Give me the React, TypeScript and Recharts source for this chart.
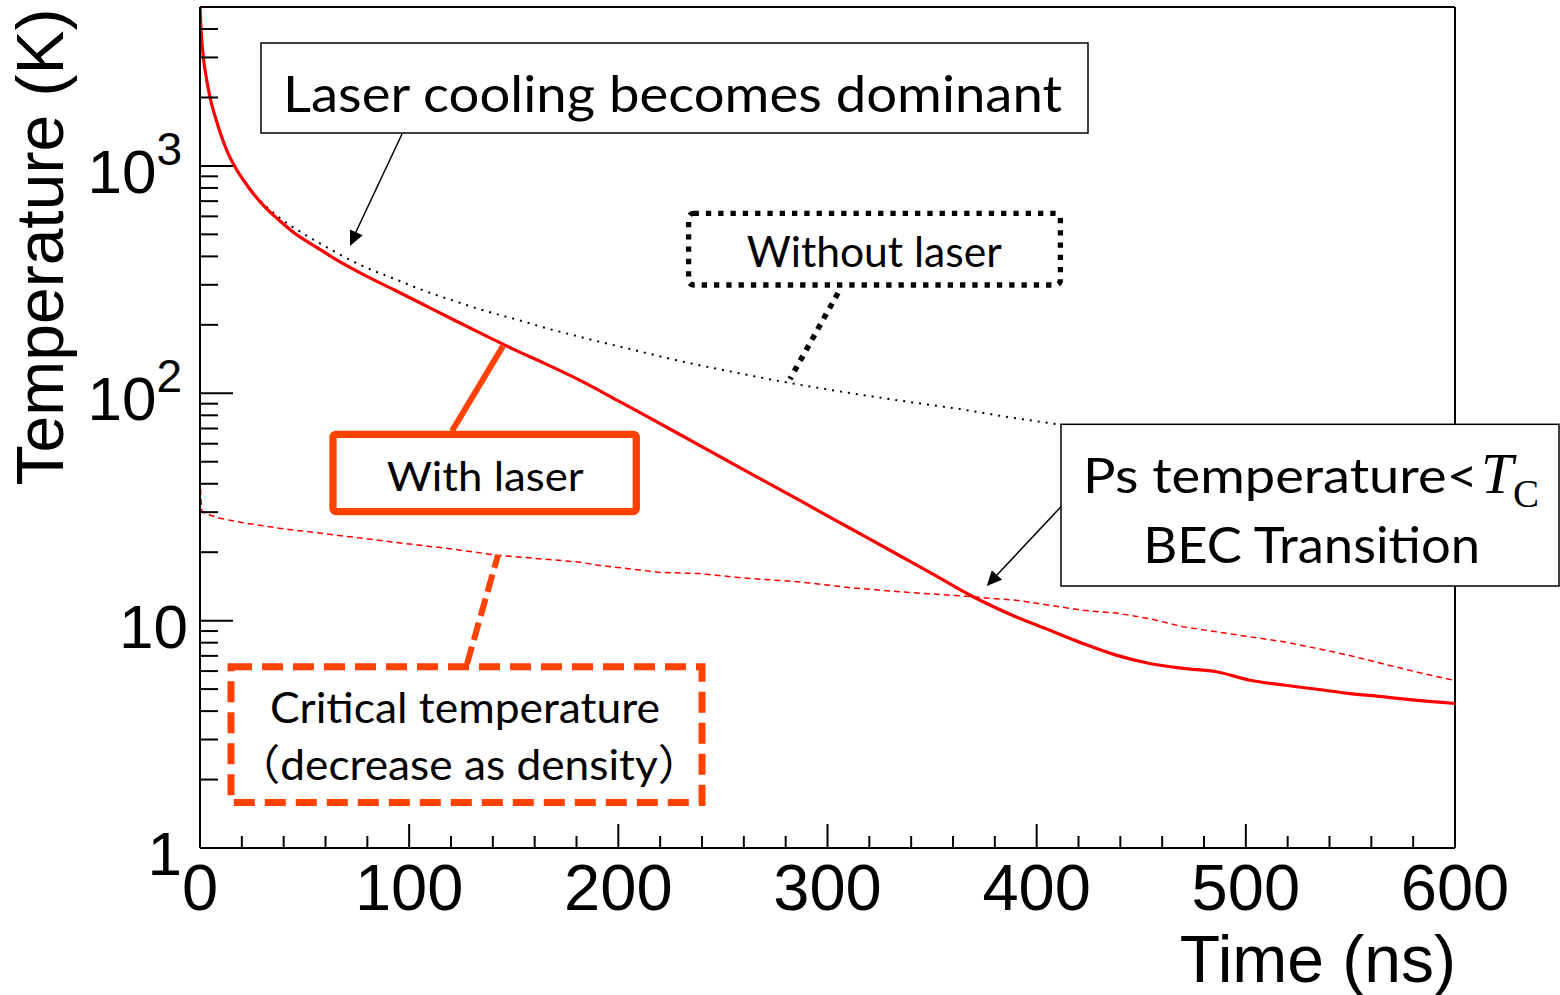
import React from 'react';
import { LineChart, Line, XAxis, YAxis, ReferenceLine } from 'recharts';

// ---- data ----
const laserTime = [0, 0.5, 1.6, 3, 4.8, 7.5, 10, 13, 16.5, 23, 31, 38, 45.4, 55, 64.5, 80, 93.2, 107, 121.9, 137.7, 150, 165, 181.7, 200, 215, 229, 250, 269, 287, 303, 318.5, 335, 350, 368, 390, 406, 422, 438, 454, 470, 486, 502, 518, 534, 549, 565, 581, 600];
const laserTemp = [5000, 4000, 3000, 2450, 2000, 1620, 1370, 1160, 1000, 810, 660, 575, 504, 443, 390, 326, 284, 245, 209, 177, 156, 135, 114, 92.6, 77.9, 66.2, 51.8, 41.5, 33.7, 27.9, 23.3, 19.2, 16.1, 12.96, 10.4, 9.09, 7.94, 7.05, 6.48, 6.17, 5.96, 5.47, 5.21, 4.99, 4.79, 4.63, 4.47, 4.32];

const noLaserTime = [0, 0.5, 1.6, 3, 4.8, 7.5, 10, 13, 16.5, 23, 31.9, 38, 45.4, 55, 64.5, 78, 93.2, 107, 121.9, 136, 150.6, 165, 181.7, 205, 229.5, 253, 277.3, 300, 325.1, 345, 363.3, 385, 409.6, 412];
const noLaserTemp = [5000, 4000, 3000, 2450, 2000, 1620, 1370, 1160, 1000, 812, 660, 592, 531, 470, 419, 362, 318, 283, 254, 231, 212, 194, 177, 157, 138.6, 125, 113, 104, 95.7, 90, 85.2, 79, 73.2, 72.7];

const critTime = [0, 0.8, 2, 5, 9.5, 20, 38, 55, 73, 95, 118, 142, 160, 181, 191, 220, 239, 260, 287, 310, 334, 366, 390, 406, 422, 438, 454, 470, 486, 502, 518, 534, 549, 565, 581, 600];
const critTemp = [42, 30.5, 29.8, 29.1, 28.2, 27, 25.5, 24.4, 23.3, 22, 20.8, 19.4, 18.8, 18.1, 17.5, 16.3, 16.1, 15.4, 14.8, 14.0, 13.4, 12.8, 12.3, 11.7, 11.1, 10.8, 10.2, 9.4, 8.93, 8.49, 8.07, 7.55, 7.05, 6.48, 5.96, 5.45];

const xMajorTicks = [0, 100, 200, 300, 400, 500, 600];
const xTicks = [0, 20, 40, 60, 80, 100, 120, 140, 160, 180, 200, 220, 240, 260, 280, 300, 320, 340, 360, 380, 400, 420, 440, 460, 480, 500, 520, 540, 560, 580, 600];
const yMajorTicks = [1, 10, 100, 1000];
const yTicks = [1, 2, 3, 4, 5, 6, 7, 8, 9, 10, 20, 30, 40, 50, 60, 70, 80, 90, 100, 200, 300, 400, 500, 600, 700, 800, 900, 1000, 2000, 3000, 4000];

const toRows = (ts: number[], vs: number[]) => ts.map((t, i) => ({ t, T: vs[i] }));
const laserData = toRows(laserTime, laserTemp);
const noLaserData = toRows(noLaserTime, noLaserTemp);
const critData = toRows(critTime, critTemp);

const AXIS_FONT = '"Liberation Sans", Arial, sans-serif';
const NOTE_FONT = 'Lato, "Noto Sans CJK JP", sans-serif';
const SERIF = '"Liberation Serif", "DejaVu Serif", serif';
const ORANGE = '#FF4200';

const XTick = (props: any) => {
  const { x, y, payload } = props;
  const v = payload.value;
  const major = xMajorTicks.includes(v);
  return (
    <g>
      <line x1={x} y1={y} x2={x} y2={y - (major ? 24 : 12)} stroke="#000" strokeWidth={2} />
      {major && (
        <text x={x} y={y + 62} textAnchor="middle" fontFamily={AXIS_FONT} fontSize={65} fill="#000">
          {String(v)}
        </text>
      )}
    </g>
  );
};

const YTick = (props: any) => {
  const { x, y, payload } = props;
  const v = payload.value;
  const major = yMajorTicks.includes(v);
  let label: React.ReactNode = null;
  if (major) {
    if (v === 1 || v === 10) {
      label = (
        <text x={x - (v === 1 ? 18 : 12)} y={y + 27} textAnchor="end" fontFamily={AXIS_FONT} fontSize={62} fill="#000">
          {String(v)}
        </text>
      );
    } else {
      const exp = Math.round(Math.log10(v));
      label = (
        <text x={x - 18} y={y + 27} textAnchor="end" fontFamily={AXIS_FONT} fontSize={62} fill="#000">
          <tspan>10</tspan>
          <tspan dy={-28} fontSize={46}>{String(exp)}</tspan>
        </text>
      );
    }
  }
  return (
    <g>
      <line x1={x} y1={y} x2={x + (major ? 33 : 18)} y2={y} stroke="#000" strokeWidth={2} />
      {label}
    </g>
  );
};

function arrowHead(x1: number, y1: number, x2: number, y2: number, len = 15, half = 7) {
  const dx = x2 - x1, dy = y2 - y1;
  const d = Math.hypot(dx, dy);
  const ux = dx / d, uy = dy / d;
  const bx = x2 - ux * len, by = y2 - uy * len;
  const px = -uy, py = ux;
  return `${x2},${y2} ${bx + px * half},${by + py * half} ${bx - px * half},${by - py * half}`;
}

const Annotations = () => (
  <svg width={1560} height={995} style={{ position: 'absolute', left: 0, top: 0, pointerEvents: 'none' }}>
    {/* Laser cooling becomes dominant */}
    <line x1={402} y1={134} x2={355} y2={234} stroke="#000" strokeWidth={1.5} />
    <polygon points={arrowHead(402, 134, 350, 246, 15, 7)} fill="#000" />
    <rect x={261} y={43} width={827} height={90} fill="#fff" stroke="#000" strokeWidth={1.5} />
    <text x={283} y={112} fontFamily={NOTE_FONT} fontSize={51} textLength={779} lengthAdjust="spacingAndGlyphs" fill="#000">
      Laser cooling becomes dominant
    </text>

    {/* Without laser */}
    <line x1={838} y1={293} x2={790} y2={379} stroke="#000" strokeWidth={5.5} strokeDasharray="5.5 6.5" />
    <rect x={688.6} y={213.3} width={371.8} height={71.7} rx={5} fill="#fff" stroke="#000" strokeWidth={5.3} strokeDasharray="5.3 7" />
    <text x={746.7} y={266.7} fontFamily={NOTE_FONT} fontSize={42} textLength={255} lengthAdjust="spacingAndGlyphs" fill="#000">
      Without laser
    </text>

    {/* With laser */}
    <line x1={452} y1={431} x2={503} y2={346} stroke={ORANGE} strokeWidth={6} />
    <rect x={333} y={434.3} width={303.3} height={77.3} rx={3} fill="#fff" stroke={ORANGE} strokeWidth={7.3} />
    <text x={386.7} y={491} fontFamily={NOTE_FONT} fontSize={41} textLength={197} lengthAdjust="spacingAndGlyphs" fill="#000">
      With laser
    </text>

    {/* Critical temperature */}
    <line x1={467} y1={664} x2={498} y2={555} stroke={ORANGE} strokeWidth={6} strokeDasharray="18 7" />
    <rect x={231} y={666.7} width={471} height={135.8} fill="#fff" stroke={ORANGE} strokeWidth={7} strokeDasharray="21 10" />
    <text x={270} y={723} fontFamily={NOTE_FONT} fontSize={42} textLength={390} lengthAdjust="spacingAndGlyphs" fill="#000">
      Critical temperature
    </text>
    <text x={236} y={780} fontFamily={NOTE_FONT} fontSize={42} textLength={466} lengthAdjust="spacingAndGlyphs" fill="#000">
      （decrease as density）
    </text>

    {/* Ps temperature < Tc */}
    <line x1={1061} y1={506.7} x2={996} y2={576} stroke="#000" strokeWidth={1.5} />
    <polygon points={arrowHead(1061, 506.7, 986.7, 586, 15, 7)} fill="#000" />
    <rect x={1061} y={424.3} width={498} height={161.7} fill="#fff" stroke="#000" strokeWidth={1.5} />
    <text y={493.3} fill="#000">
      <tspan x={1083} fontFamily={NOTE_FONT} fontSize={49} textLength={395} lengthAdjust="spacingAndGlyphs">Ps temperature&lt;</tspan>
      <tspan x={1481} fontFamily={SERIF} fontStyle="italic" fontSize={58}>T</tspan>
      <tspan x={1513} dy={14} fontFamily={SERIF} fontSize={39}>C</tspan>
    </text>
    <text x={1143.3} y={563} fontFamily={NOTE_FONT} fontSize={50} textLength={336.7} lengthAdjust="spacingAndGlyphs" fill="#000">
      BEC Transition
    </text>

    {/* Axis titles */}
    <text transform="translate(63,247) rotate(-90)" textAnchor="middle" fontFamily={AXIS_FONT} fontSize={66} fill="#000">
      Temperature (K)
    </text>
    <text x={1456} y={982} textAnchor="end" fontFamily={AXIS_FONT} fontSize={66} fill="#000">
      Time (ns)
    </text>
  </svg>
);

export default function App() {
  return (
    <div style={{ position: 'absolute', left: 0, top: 0, width: 1560, height: 995, background: '#fff' }}>
      <LineChart width={1560} height={995} margin={{ top: 7, right: 105, bottom: 146, left: 199 }}>
        <XAxis
          type="number"
          dataKey="t"
          domain={[0, 600]}
          ticks={xTicks}
          interval={0}
          height={1}
          tickSize={0}
          tickMargin={0}
          tickLine={false}
          tick={(p: any) => <XTick {...p} />}
          axisLine={{ stroke: '#000', strokeWidth: 2 }}
          allowDataOverflow
        />
        <YAxis
          type="number"
          scale="log"
          domain={[1, 5000]}
          ticks={yTicks}
          interval={0}
          width={1}
          tickSize={0}
          tickMargin={0}
          tickLine={false}
          tick={(p: any) => <YTick {...p} />}
          axisLine={{ stroke: '#000', strokeWidth: 2 }}
          allowDataOverflow
        />
        <ReferenceLine y={5000} stroke="#000" strokeWidth={2} />
        <ReferenceLine x={600} stroke="#000" strokeWidth={2} />
        <Line
          data={critData}
          dataKey="T"
          type="linear"
          stroke="#FF0000"
          strokeWidth={1.5}
          strokeDasharray="6 4"
          dot={false}
          isAnimationActive={false}
        />
        <Line
          data={noLaserData}
          dataKey="T"
          type="monotone"
          stroke="#000"
          strokeWidth={2}
          strokeDasharray="2 6"
          dot={false}
          isAnimationActive={false}
        />
        <Line
          data={laserData}
          dataKey="T"
          type="monotone"
          stroke="#FF0000"
          strokeWidth={3.2}
          dot={false}
          isAnimationActive={false}
        />
      </LineChart>
      <Annotations />
    </div>
  );
}
